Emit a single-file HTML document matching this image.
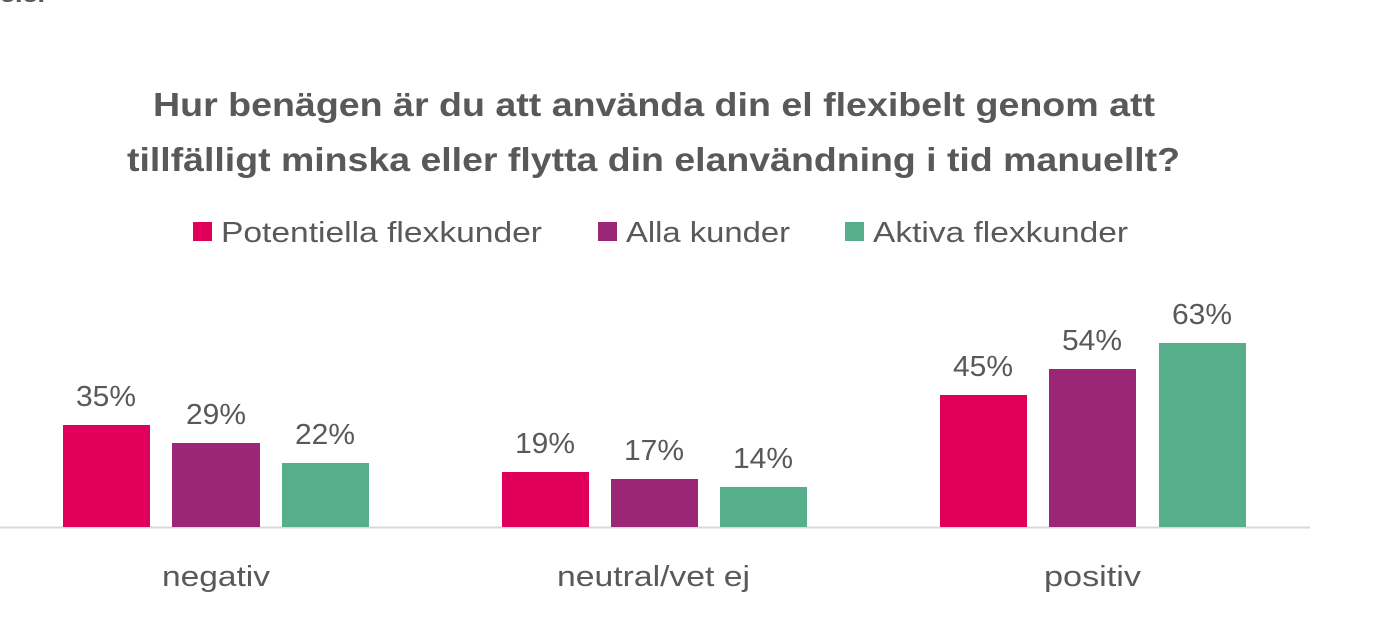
<!DOCTYPE html>
<html><head><meta charset="utf-8"><style>
html,body{margin:0;padding:0;background:#fff;width:1400px;height:622px;overflow:hidden}
svg{display:block}
text{font-family:"Liberation Sans",sans-serif;fill:#595959}
</style></head><body>
<svg width="1400" height="622" viewBox="0 0 1400 622">
<text x="0" y="2" font-size="20" font-weight="bold" fill="#222" textLength="45" lengthAdjust="spacingAndGlyphs">e.e.</text>
<text x="153" y="116" font-size="33" font-weight="bold" textLength="1002" lengthAdjust="spacingAndGlyphs">Hur benägen är du att använda din el flexibelt genom att</text>
<text x="127" y="171" font-size="33" font-weight="bold" textLength="1053" lengthAdjust="spacingAndGlyphs">tillfälligt minska eller flytta din elanvändning i tid manuellt?</text>
<rect x="193" y="222" width="19" height="19" fill="#E0005A"/>
<text x="221" y="242" font-size="29" textLength="321" lengthAdjust="spacingAndGlyphs">Potentiella flexkunder</text>
<rect x="598" y="222" width="19" height="19" fill="#9B2676"/>
<text x="626" y="242" font-size="29" textLength="164" lengthAdjust="spacingAndGlyphs">Alla kunder</text>
<rect x="845" y="222" width="19" height="19" fill="#56AE8A"/>
<text x="873" y="242" font-size="29" textLength="255" lengthAdjust="spacingAndGlyphs">Aktiva flexkunder</text>
<line x1="0" y1="527.5" x2="1310" y2="527.5" stroke="#d9d9d9" stroke-width="2"/>
<g>
<rect x="63" y="425" width="87" height="102" fill="#E0005A"/>
<rect x="172" y="443" width="88" height="84" fill="#9B2676"/>
<rect x="282" y="463" width="87" height="64" fill="#56AE8A"/>
<rect x="502" y="472" width="87" height="55" fill="#E0005A"/>
<rect x="611" y="479" width="87" height="48" fill="#9B2676"/>
<rect x="720" y="487" width="87" height="40" fill="#56AE8A"/>
<rect x="940" y="395" width="87" height="132" fill="#E0005A"/>
<rect x="1049" y="369" width="87" height="158" fill="#9B2676"/>
<rect x="1159" y="343" width="87" height="184" fill="#56AE8A"/>
</g>
<g font-size="29" text-anchor="middle">
<text x="106" y="406" fill="#404040" textLength="60" lengthAdjust="spacingAndGlyphs">35%</text>
<text x="216" y="424" fill="#404040" textLength="60" lengthAdjust="spacingAndGlyphs">29%</text>
<text x="325" y="444" fill="#404040" textLength="60" lengthAdjust="spacingAndGlyphs">22%</text>
<text x="545" y="453" fill="#404040" textLength="60" lengthAdjust="spacingAndGlyphs">19%</text>
<text x="654" y="460" fill="#404040" textLength="60" lengthAdjust="spacingAndGlyphs">17%</text>
<text x="763" y="468" fill="#404040" textLength="60" lengthAdjust="spacingAndGlyphs">14%</text>
<text x="983" y="376" fill="#404040" textLength="60" lengthAdjust="spacingAndGlyphs">45%</text>
<text x="1092" y="350" fill="#404040" textLength="60" lengthAdjust="spacingAndGlyphs">54%</text>
<text x="1202" y="324" fill="#404040" textLength="60" lengthAdjust="spacingAndGlyphs">63%</text>
</g>
<g font-size="29">
<text x="162" y="586" textLength="108" lengthAdjust="spacingAndGlyphs">negativ</text>
<text x="557" y="586" textLength="193" lengthAdjust="spacingAndGlyphs">neutral/vet ej</text>
<text x="1044" y="586" textLength="97" lengthAdjust="spacingAndGlyphs">positiv</text>
</g>
</svg>
</body></html>
